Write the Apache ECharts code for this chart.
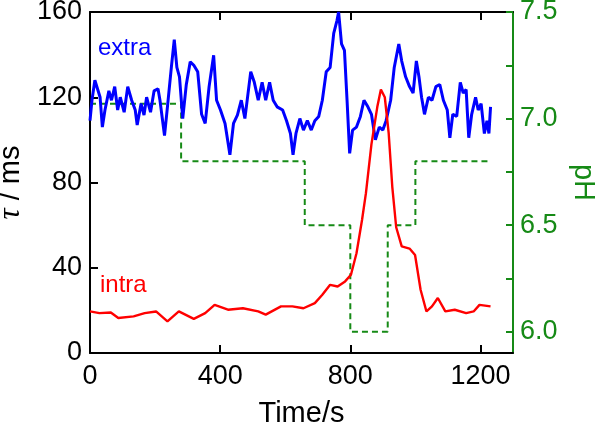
<!DOCTYPE html>
<html>
<head>
<meta charset="utf-8">
<script src="https://cdn.jsdelivr.net/npm/echarts@6/dist/echarts.min.js"></script>
<style>
html,body{margin:0;padding:0;background:#fff;}
#chart{width:600px;height:424px;}
</style>
</head>
<body>
<div id="chart"></div>
<script>
// ---- data ----
var extraTime = [0,6,15,23,31,38,46,58,66,76,85,93,105,116,128,139,145,157,166,174,186,197,209,215,229,238,250,259,267,275,285,296,308,319,331,343,354,366,380,389,401,415,430,441,453,465,476,494,505,517,529,540,552,563,575,592,604,616,624,633,645,656,668,680,691,703,714,726,738,749,759,764,773,782,790,798,807,819,831,842,854,865,877,889,900,910,924,935,949,958,970,982,993,1003,1011,1019,1028,1040,1051,1063,1075,1086,1098,1106,1115,1127,1138,1147,1156,1164,1173,1185,1193,1202,1212,1220,1226,1231];
var extraTau = [109,118.6,128,124,120,106,114,123,118.6,125,114,120,113,125,118.6,114,107,117,111.6,120,113,123,124,118.6,102,115.5,134,147,134,129.6,110,126,136.6,135,132,112,107.7,125,139.7,118.6,114,107.7,93,107.7,111.6,118.6,110,132,127,118.6,127,118.6,127,118.6,115.5,114,109,103,93,103,110,104.6,109,104.6,109,111,118.6,132,134,150,156,160,145,142,118.6,93.7,104.6,106,111,118.6,115.5,112,100,106,104.6,109,118.6,134,145,137,129.6,125,122,137,129.6,120,112,120,118.6,125,126,118.6,114,101,112,111,127,122,123.6,101,112,120,114,117,103,109,103,115.5];

var intraTime = [0,29,64,87,134,168,203,238,273,319,354,383,424,470,517,540,587,622,656,691,714,738,761,784,802,819,836,848,865,883,894,906,918,929,941,958,982,999,1016,1034,1051,1069,1092,1121,1156,1179,1197,1231];
var intraTau = [19.5,18.7,19,16.4,17.2,18.7,19.5,14.8,19.5,16,18.7,22.6,20.3,21,19.5,18,21.9,21.9,21,23.4,27.3,32,31.2,33.6,36.7,46.8,62.4,75,98,115.5,123.6,120,103,78,59,50,49,46,29.7,19.5,21.9,25.8,19.5,20.3,18.7,19.5,22.6,21.9];

var phTime = [0,280,660,800,915,1000,1225];
var phValue = [7.07,6.8,6.5,6.0,6.5,6.8,6.8];

var xTicks = [0,400,800,1200];
var tauTicks = [0,40,80,120,160];
var phLabelTicks = [6.0,6.5,7.0,7.5];
var phMinorTicks = [6.0,6.25,6.5,6.75,7.0,7.25,7.5];

function zip(a,b){ return a.map(function(v,i){ return [v,b[i]]; }); }

var FONT = 'Liberation Sans, Arial, sans-serif';
var GREEN = '#168a16';

var chart = echarts.init(document.getElementById('chart'), null, {renderer:'canvas'});
chart.setOption({
  animation:false,
  backgroundColor:'#fff',
  grid:{left:90,right:87,top:12,bottom:71,containLabel:false,outerBoundsMode:'none'},
  xAxis:[{
    type:'value',min:0,max:1300,position:'bottom',
    name:'Time/s',nameLocation:'middle',nameGap:46,
    nameTextStyle:{fontFamily:FONT,fontSize:29,color:'#000'},
    axisLine:{show:true,onZero:false,lineStyle:{color:'#000',width:2}},
    axisTick:{show:true,inside:true,length:8,customValues:xTicks,lineStyle:{color:'#000',width:2}},
    axisLabel:{customValues:xTicks,fontFamily:FONT,fontSize:27,color:'#000',margin:10,
      formatter:function(v){return String(v);}},
    splitLine:{show:false}
  },{
    type:'value',min:0,max:1300,position:'top',
    axisLine:{show:true,onZero:false,lineStyle:{color:'#000',width:2}},
    axisTick:{show:true,inside:true,length:8,customValues:xTicks,lineStyle:{color:'#000',width:2}},
    axisLabel:{show:false},
    splitLine:{show:false}
  }],
  yAxis:[{
    type:'value',min:0,max:160,interval:40,position:'left',
    name:'{it|\u03c4} / ms',nameLocation:'middle',nameGap:52,nameRotate:90,
    nameTextStyle:{fontFamily:FONT,fontSize:29,color:'#000',
      rich:{it:{fontFamily:'Liberation Serif, serif',fontStyle:'italic',fontSize:31,color:'#000'}}},
    axisLine:{show:true,onZero:false,lineStyle:{color:'#000',width:2}},
    axisTick:{show:true,inside:true,length:8,customValues:tauTicks,lineStyle:{color:'#000',width:2}},
    axisLabel:{customValues:tauTicks,fontFamily:FONT,fontSize:27,color:'#000',margin:8},
    splitLine:{show:false}
  },{
    type:'value',min:5.9,max:7.5,position:'right',
    name:'pH',nameLocation:'middle',nameGap:55,nameRotate:-90,
    nameTextStyle:{fontFamily:FONT,fontSize:29,color:GREEN},
    axisLine:{show:true,onZero:false,lineStyle:{color:GREEN,width:2}},
    axisTick:{show:true,inside:true,length:7,customValues:phMinorTicks,lineStyle:{color:GREEN,width:2}},
    axisLabel:{customValues:phLabelTicks,fontFamily:FONT,fontSize:27,color:GREEN,margin:7,
      formatter:function(v){return v.toFixed(1);}},
    splitLine:{show:false}
  }],
  series:[{
    type:'line',name:'pH',yAxisIndex:1,xAxisIndex:0,step:'end',
    data:zip(phTime,phValue),showSymbol:false,symbol:'none',
    lineStyle:{color:GREEN,width:2,type:[6,4]},z:2
  },{
    type:'line',name:'extra',yAxisIndex:0,xAxisIndex:0,
    data:zip(extraTime,extraTau),showSymbol:false,symbol:'none',
    lineStyle:{color:'#0000ff',width:3},z:3
  },{
    type:'line',name:'intra',yAxisIndex:0,xAxisIndex:0,
    data:zip(intraTime,intraTau),showSymbol:false,symbol:'none',
    lineStyle:{color:'#ff0000',width:2.4},z:4
  }],
  graphic:[{
    type:'text',style:{x:98,y:48,text:'extra',font:'24px Liberation Sans',fill:'#0000ff',verticalAlign:'middle'}
  },{
    type:'text',style:{x:100,y:285,text:'intra',font:'24px Liberation Sans',fill:'#ff0000',verticalAlign:'middle'}
  }]
});
</script>
</body>
</html>
